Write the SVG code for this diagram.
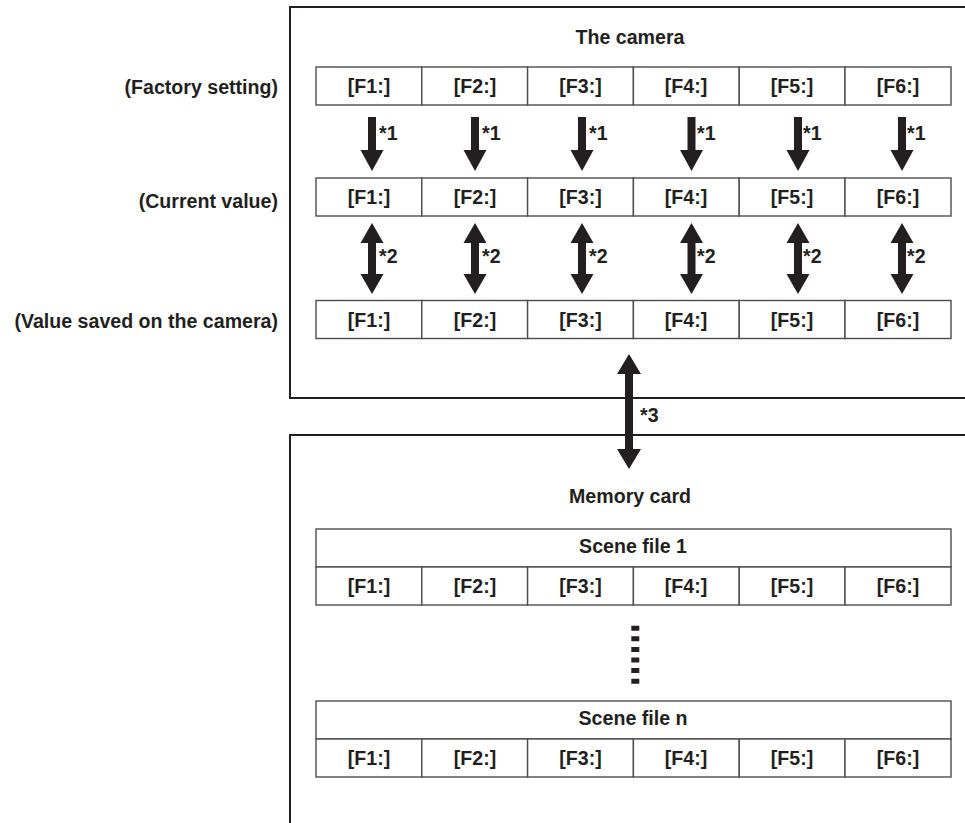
<svg xmlns="http://www.w3.org/2000/svg" width="965" height="823" viewBox="0 0 965 823">
<style>
text{font-family:"Liberation Sans",Arial,sans-serif;font-weight:bold;font-size:19.6px;fill:#231f20}
.c{text-anchor:middle}
.r{text-anchor:end}
.frame{fill:none;stroke:#231f20;stroke-width:2}
.cell{fill:#fff;stroke:#4d4d4d;stroke-width:1.4}
.arr{fill:#231f20}
</style>
<defs>
<path id="down" d="M-4,0 H4 V33 H11.5 L0,54 L-11.5,33 H-4 Z"/>
<path id="dbl" d="M0,0 L11.5,20 H4 V51 H11.5 L0,71 L-11.5,51 H-4 V20 H-11.5 Z"/>
<g id="row">
<rect class="cell" x="316" y="0" width="105.8" height="38"/>
<rect class="cell" x="421.8" y="0" width="105.8" height="38"/>
<rect class="cell" x="527.6" y="0" width="105.8" height="38"/>
<rect class="cell" x="633.4" y="0" width="105.8" height="38"/>
<rect class="cell" x="739.2" y="0" width="105.8" height="38"/>
<rect class="cell" x="845" y="0" width="106" height="38"/>
<text class="c" x="369" y="26">[F1:]</text>
<text class="c" x="475" y="26">[F2:]</text>
<text class="c" x="580.5" y="26">[F3:]</text>
<text class="c" x="686" y="26">[F4:]</text>
<text class="c" x="792" y="26">[F5:]</text>
<text class="c" x="898" y="26">[F6:]</text>
</g>
</defs>
<g id="camera">
<path class="frame" d="M965,7 H290 V398 H965"/>
<text class="c" x="630" y="44">The camera</text>
</g>
<g id="labels">
<text class="r" x="278" y="94">(Factory setting)</text>
<text class="r" x="278" y="208">(Current value)</text>
<text class="r" x="278" y="328">(Value saved on the camera)</text>
</g>
<g id="factory"><use href="#row" y="67"/></g>
<g id="current"><use href="#row" y="178"/></g>
<g id="saved"><use href="#row" y="300.5"/></g>
<g id="memorycard">
<path class="frame" d="M965,435 H290 V823"/>
<text class="c" x="630" y="503">Memory card</text>
</g>
<g id="scene1">
<rect class="cell" x="316" y="529" width="635" height="38"/>
<text class="c" x="633" y="553">Scene file 1</text>
<use href="#row" y="567"/>
</g>
<g id="scenen">
<rect class="cell" x="316" y="701" width="635" height="38"/>
<text class="c" x="633" y="725">Scene file n</text>
<use href="#row" y="739"/>
</g>
<g id="connectors">
<g class="arr">
<use href="#down" x="372" y="117"/>
<use href="#down" x="475" y="117"/>
<use href="#down" x="582" y="117"/>
<use href="#down" x="691.5" y="117"/>
<use href="#down" x="798" y="117"/>
<use href="#down" x="902" y="117"/>
<use href="#dbl" x="372" y="223"/>
<use href="#dbl" x="475" y="223"/>
<use href="#dbl" x="582" y="223"/>
<use href="#dbl" x="691.5" y="223"/>
<use href="#dbl" x="798" y="223"/>
<use href="#dbl" x="902" y="223"/>
<path d="M629,354 L641,374 H633 V449 H641 L629,469 L617,449 H625 V374 H617 Z"/>
</g>
<line x1="635.3" y1="625.7" x2="635.3" y2="683.7" stroke="#231f20" stroke-width="8" stroke-dasharray="5 5.6"/>
<text x="379" y="140">*1</text>
<text x="482" y="140">*1</text>
<text x="589" y="140">*1</text>
<text x="697" y="140">*1</text>
<text x="803" y="140">*1</text>
<text x="907" y="140">*1</text>
<text x="379" y="263">*2</text>
<text x="482" y="263">*2</text>
<text x="589" y="263">*2</text>
<text x="697" y="263">*2</text>
<text x="803" y="263">*2</text>
<text x="907" y="263">*2</text>
<text x="640" y="422">*3</text>
</g>
</svg>
